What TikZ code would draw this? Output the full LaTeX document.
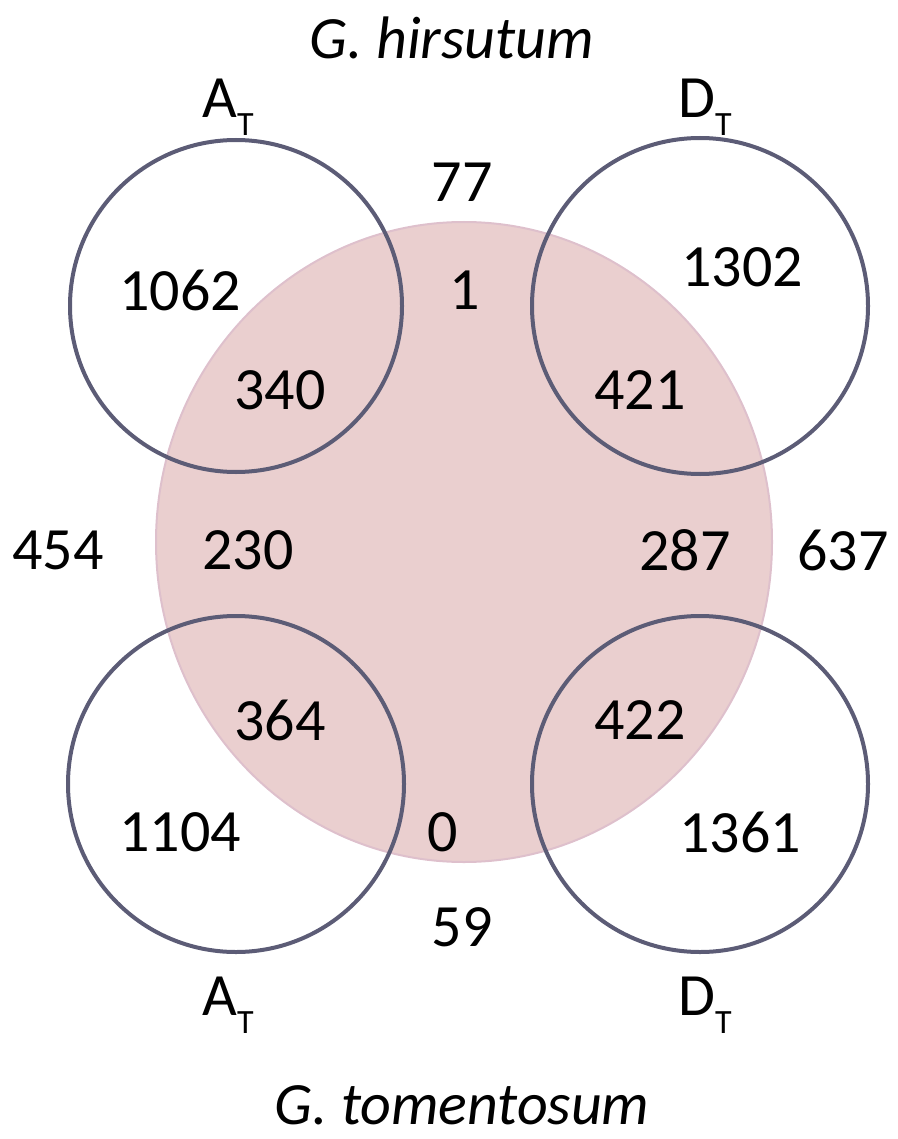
\documentclass[tikz,border=0pt]{standalone}
\usepackage{fontspec}
\setmainfont{Carlito}
\definecolor{pinkfill}{RGB}{234,207,207}
\definecolor{pinkedge}{RGB}{222,192,204}
\definecolor{ringcol}{RGB}{92,92,118}
\newcommand{\subT}{\raisebox{-0.3em}{\fontsize{34}{34}\selectfont T}}
\tikzset{
  num/.style={font=\fontsize{60}{62}\selectfont, inner sep=0pt, text=black},
  lbl/.style={font=\fontsize{60}{62}\selectfont, inner sep=0pt, text=black},
  title/.style={font=\fontsize{60}{62}\selectfont\itshape, inner sep=0pt, text=black},
  ring/.style={draw=ringcol, line width=4pt},
}
\begin{document}
\begin{tikzpicture}[x=1pt,y=-1pt]
\useasboundingbox (0,0) rectangle (897,1139);
% big shaded circle
\fill[pinkfill, draw=pinkedge, line width=2pt] (464,542) ellipse [x radius=308, y radius=320];
% four small circles
\draw[ring] (236,306) circle (166);
\draw[ring] (700,306) circle (168);
\draw[ring] (236,784) circle (168);
\draw[ring] (700,784) circle (168);
% titles
\node[title] (th) at (452,38) {G. hirsutum};
\node[title, anchor=base] (tt) at (462,1124) {G. tomentosum};
% set labels
\node[lbl, anchor=base] (at1) at (228,118) {A\subT};
\node[lbl, anchor=base] (dt1) at (705,118) {D\subT};
\node[lbl, anchor=base] (at2) at (228,1015) {A\subT};
\node[lbl, anchor=base] (dt2) at (705,1015) {D\subT};
% numbers
\node[num] (n77) at (462,182) {77};
\node[num] (n1062) at (180,290) {1062};
\node[num] (n1) at (465,290) {1};
\node[num] (n1302) at (742,267) {1302};
\node[num] (n340) at (280,390) {340};
\node[num] (n421) at (640,390) {421};
\node[num] (n454) at (58,550) {454};
\node[num] (n230) at (248,550) {230};
\node[num] (n287) at (685,550) {287};
\node[num] (n637) at (843,550) {637};
\node[num] (n364) at (280,720) {364};
\node[num] (n422) at (640,720) {422};
\node[num] (n1104) at (180,832) {1104};
\node[num] (n0) at (443,832) {0};
\node[num] (n1361) at (740,832) {1361};
\node[num] (n59) at (462,927) {59};
\end{tikzpicture}
\end{document}
